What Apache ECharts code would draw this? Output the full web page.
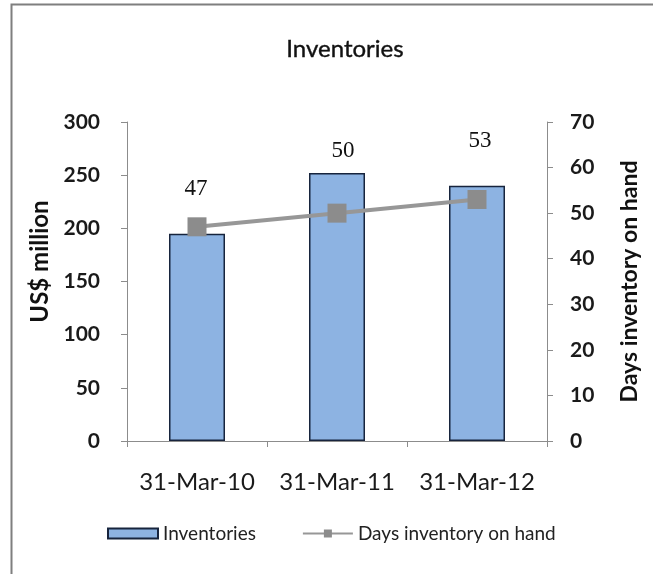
<!DOCTYPE html>
<html>
<head>
<meta charset="utf-8">
<script src="https://cdn.jsdelivr.net/npm/echarts@6/dist/echarts.min.js"></script>
<style>
html,body{margin:0;padding:0;background:#fff;}
#chart{width:653px;height:574px;}
</style>
</head>
<body>
<div id="chart"></div>
<script>
const categories = ['31-Mar-10', '31-Mar-11', '31-Mar-12'];
const inventories = [195, 252, 240];
const daysOnHand = [47, 50, 53];
const leftTicks = [0, 50, 100, 150, 200, 250, 300];
const rightTicks = [0, 10, 20, 30, 40, 50, 60, 70];

const chart = echarts.init(document.getElementById('chart'));
const labelOffsets = [[-1, -12], [6, -36], [3, -33]];
const axisColor = '#8c8c8c';
const tickFont = { fontFamily: 'Lato', fontSize: 21, fontWeight: 'bold', color: '#1a1a1a' };

chart.setOption({
  animation: false,
  backgroundColor: '#fff',
  graphic: [{
    type: 'rect',
    shape: { x: 11.5, y: 4.5, width: 800, height: 700 },
    style: { fill: 'none', stroke: '#7f7f7f', lineWidth: 2 }
  }],
  title: {
    text: 'Inventories',
    left: 340,
    textAlign: 'center',
    top: 32,
    textStyle: { fontFamily: 'Lato', fontSize: 24, fontWeight: 'normal', color: '#111', textBorderColor: '#111', textBorderWidth: 0.4 }
  },
  legend: {
    bottom: 26,
    left: 102,
    itemWidth: 50,
    itemHeight: 10,
    itemGap: 46,
    textStyle: { fontFamily: 'Lato', fontSize: 19, color: '#222' },
    data: [
      { name: 'Inventories', icon: 'rect' },
      { name: 'Days inventory on hand' }
    ]
  },
  grid: { left: 127, right: 106, top: 122, bottom: 133 },
  xAxis: {
    type: 'category',
    data: categories,
    boundaryGap: true,
    axisLine: { lineStyle: { color: axisColor, width: 1 } },
    axisTick: { show: true, length: 6, lineStyle: { color: axisColor } },
    axisLabel: { interval: 0, hideOverlap: false, margin: 29, fontFamily: 'Lato', fontSize: 24, color: '#1a1a1a' }
  },
  yAxis: [{
    type: 'value',
    min: leftTicks[0],
    max: leftTicks[leftTicks.length - 1],
    interval: 50,
    name: 'US$ million',
    nameLocation: 'middle',
    nameGap: 71,
    nameTextStyle: { fontFamily: 'Lato', fontSize: 24, fontWeight: 'bold', color: '#111', padding: [0, 0, 0, 40] },
    axisLine: { show: true, lineStyle: { color: axisColor } },
    axisTick: { show: true, length: 6, lineStyle: { color: axisColor } },
    splitLine: { show: false },
    axisLabel: Object.assign({ margin: 27 }, tickFont)
  }, {
    type: 'value',
    min: rightTicks[0],
    max: rightTicks[rightTicks.length - 1],
    interval: 10,
    name: 'Days inventory on hand',
    nameLocation: 'middle',
    nameGap: 71,
    nameTextStyle: { fontFamily: 'Lato', fontSize: 23, fontWeight: 'bold', color: '#111' },
    position: 'right',
    axisLine: { show: true, lineStyle: { color: axisColor } },
    axisTick: { show: true, length: 6, lineStyle: { color: axisColor } },
    splitLine: { show: false },
    axisLabel: Object.assign({ margin: 23 }, tickFont)
  }],
  series: [{
    name: 'Inventories',
    type: 'bar',
    data: inventories,
    barWidth: '40%',
    itemStyle: { color: '#8db3e2', borderColor: '#17243d', borderWidth: 1.5 }
  }, {
    name: 'Days inventory on hand',
    type: 'line',
    yAxisIndex: 1,
    data: daysOnHand.map((v, i) => ({
      value: v,
      label: { offset: labelOffsets[i] }
    })),
    symbol: 'rect',
    symbolSize: 19,
    lineStyle: { color: '#979797', width: 4 },
    itemStyle: { color: '#8c8c8c' },
    label: {
      show: true,
      position: 'top',
      distance: 5,
      fontFamily: 'Liberation Serif',
      fontSize: 23,
      color: '#111'
    }
  }]
});
</script>
</body>
</html>
